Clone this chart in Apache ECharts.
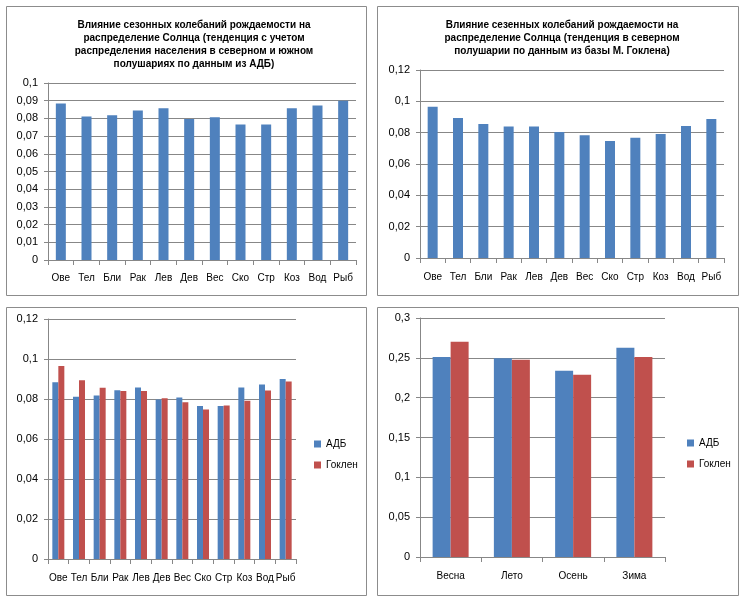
<!DOCTYPE html>
<html><head><meta charset="utf-8">
<script src="https://cdn.jsdelivr.net/npm/echarts@6/dist/echarts.min.js"></script>
<style>html,body{margin:0;padding:0;background:#fff}#c{width:745px;height:601px}</style>
</head><body><div id="c"></div>
<script>
const signs = ['Ове','Тел','Бли','Рак','Лев','Дев','Вес','Ско','Стр','Коз','Вод','Рыб'];
const adb = [0.0884,0.0811,0.0818,0.0844,0.0857,0.0797,0.0807,0.0765,0.0765,0.0858,0.0873,0.0900];
const goklen = [0.0965,0.0894,0.0856,0.0840,0.0840,0.0804,0.0784,0.0747,0.0767,0.0791,0.0842,0.0888];
const seasons = ['Весна','Лето','Осень','Зима'];
const adbSeason = [0.2510,0.2494,0.2339,0.2628];
const goklenSeason = [0.2703,0.2477,0.2289,0.2510];
const yTicks1 = {min:0, max:0.1, step:0.01};
const yTicks2 = {min:0, max:0.12, step:0.02};
const yTicks4 = {min:0, max:0.3, step:0.05};
const title1 = 'Влияние сезонных колебаний рождаемости на\nраспределение Солнца (тенденция с учетом\nраспределения населения в северном и южном\nполушариях по данным из АДБ)';
const title2 = 'Влияние сезенных колебаний рождаемости на\nраспределение Солнца (тенденция в северном\nполушарии по данным из базы М. Гоклена)';

const BLUE='#4F81BD', RED='#C0504D', GRID='#878787', FONT='Liberation Sans';
const fmt = v => String(+v.toFixed(4)).replace('.', ',');

function yAx(idx, t){
  return {gridIndex:idx, type:'value', min:t.min, max:t.max, interval:t.step,
    axisLine:{show:true, lineStyle:{color:GRID}},
    axisTick:{show:true, length:4, lineStyle:{color:GRID}},
    splitLine:{show:true, lineStyle:{color:GRID, width:1}},
    axisLabel:{formatter:fmt, color:'#000', fontFamily:FONT, fontSize:11, margin:10}};
}
function xAx(idx, cats, fs, margin){
  return {gridIndex:idx, type:'category', data:cats,
    axisLine:{lineStyle:{color:GRID}},
    axisTick:{show:true, length:5, alignWithLabel:false, lineStyle:{color:GRID}},
    axisLabel:{color:'#000', fontFamily:FONT, fontSize:fs, margin:margin, interval:0}};
}
const border = (x,y,w,h) => ({type:'rect', shape:{x:x+0.5,y:y+0.5,width:w,height:h}, style:{fill:'#fff', stroke:'#8c8c8c', lineWidth:1}, z:-10});

const chart = echarts.init(document.getElementById('c'), null, {renderer:'canvas'});
chart.setOption({
  animation:false,
  backgroundColor:'#fff',
  graphic:[border(6,6,360,289), border(377,6,361,289), border(6,307,360,288), border(377,307,361,288)],
  title:[
    {text:title1, left:189, top:14, textAlign:'center', textStyle:{fontFamily:FONT, fontSize:10, fontWeight:'bold', color:'#000', lineHeight:13}},
    {text:title2, left:557, top:14, textAlign:'center', textStyle:{fontFamily:FONT, fontSize:10, fontWeight:'bold', color:'#000', lineHeight:13}}
  ],
  grid:[
    {left:48, top:83, width:308, height:177},
    {left:420, top:70, width:304, height:188},
    {left:48, top:319, width:248, height:240},
    {left:420, top:318, width:245, height:239}
  ],
  xAxis:[xAx(0,signs,10,13), xAx(1,signs,10,14), xAx(2,signs,10,14), xAx(3,seasons,10,14)],
  yAxis:[yAx(0,yTicks1), yAx(1,yTicks2), yAx(2,yTicks2), yAx(3,yTicks4)],
  legend:[
    {orient:'vertical', left:309, top:434, itemWidth:7, itemHeight:7, itemGap:11, icon:'rect',
     data:['АДБ','Гоклен'], textStyle:{fontFamily:FONT, fontSize:10, color:'#000'}},
    {orient:'vertical', left:682, top:433, itemWidth:7, itemHeight:7, itemGap:11, icon:'rect',
     data:['АДБ','Гоклен'], textStyle:{fontFamily:FONT, fontSize:10, color:'#000'}}
  ],
  series:[
    {type:'bar', xAxisIndex:0, yAxisIndex:0, data:adb, barWidth:10, itemStyle:{color:BLUE}},
    {type:'bar', xAxisIndex:1, yAxisIndex:1, data:goklen, barWidth:10, itemStyle:{color:BLUE}},
    {type:'bar', name:'АДБ', xAxisIndex:2, yAxisIndex:2, data:adb, barWidth:6, barGap:'0%', itemStyle:{color:BLUE}},
    {type:'bar', name:'Гоклен', xAxisIndex:2, yAxisIndex:2, data:goklen, barWidth:6, barGap:'0%', itemStyle:{color:RED}},
    {type:'bar', name:'АДБ', xAxisIndex:3, yAxisIndex:3, data:adbSeason, barWidth:18, barGap:'0%', itemStyle:{color:BLUE}},
    {type:'bar', name:'Гоклен', xAxisIndex:3, yAxisIndex:3, data:goklenSeason, barWidth:18, barGap:'0%', itemStyle:{color:RED}}
  ]
});
</script></body></html>
